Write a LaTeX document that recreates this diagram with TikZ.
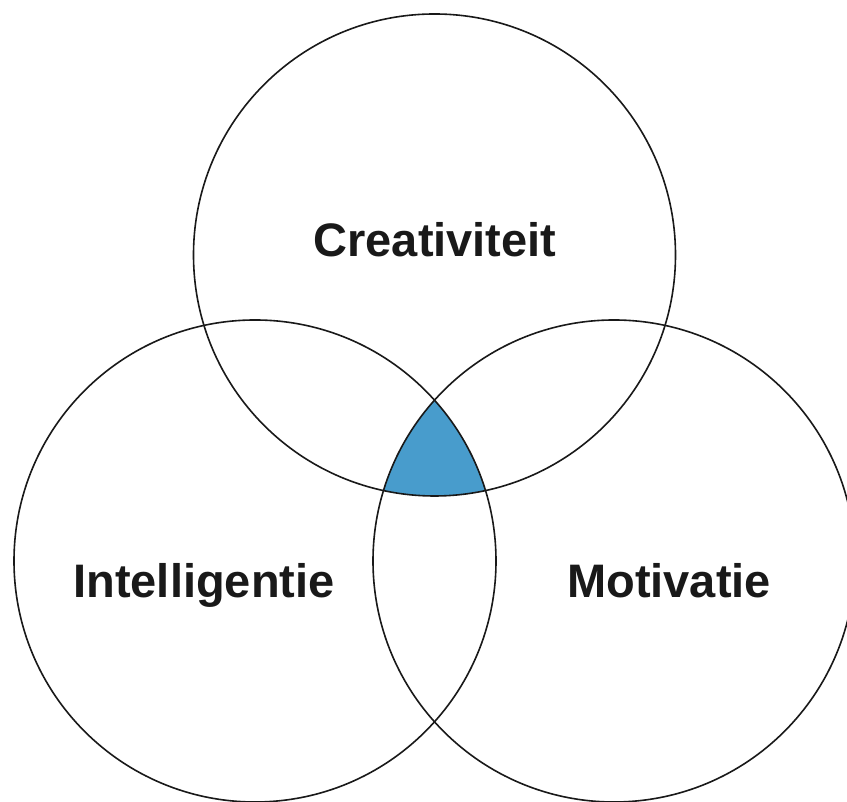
\documentclass[tikz,border=0pt]{standalone}
\usepackage{fontspec}
\setmainfont{Liberation Sans}
\definecolor{venblue}{RGB}{72,156,204}
\begin{document}
\begin{tikzpicture}[x=1pt,y=1pt,
  ring/.style={draw=black!90,line width=1.6pt},
  lbl/.style={font=\fontsize{47}{50}\selectfont\bfseries,text=black!90,anchor=base,inner sep=0pt}]
\useasboundingbox (0,0) rectangle (847,802);
\fill[white] (0,0) rectangle (847,802);
\coordinate (T) at (434.5,547);
\coordinate (L) at (255,241);
\coordinate (R) at (614,241);
\begin{scope}
  \clip (T) circle (241);
  \clip (L) circle (241);
  \fill[venblue] (R) circle (241);
\end{scope}
\draw[ring] (T) circle (241);
\draw[ring] (L) circle (241);
\draw[ring] (R) circle (241);
\node[lbl] (ct) at (435,545) {Creativiteit};
\node[lbl] (it) at (204,204) {Intelligentie};
\node[lbl] (mt) at (669,204) {Motivatie};
\end{tikzpicture}
\end{document}
